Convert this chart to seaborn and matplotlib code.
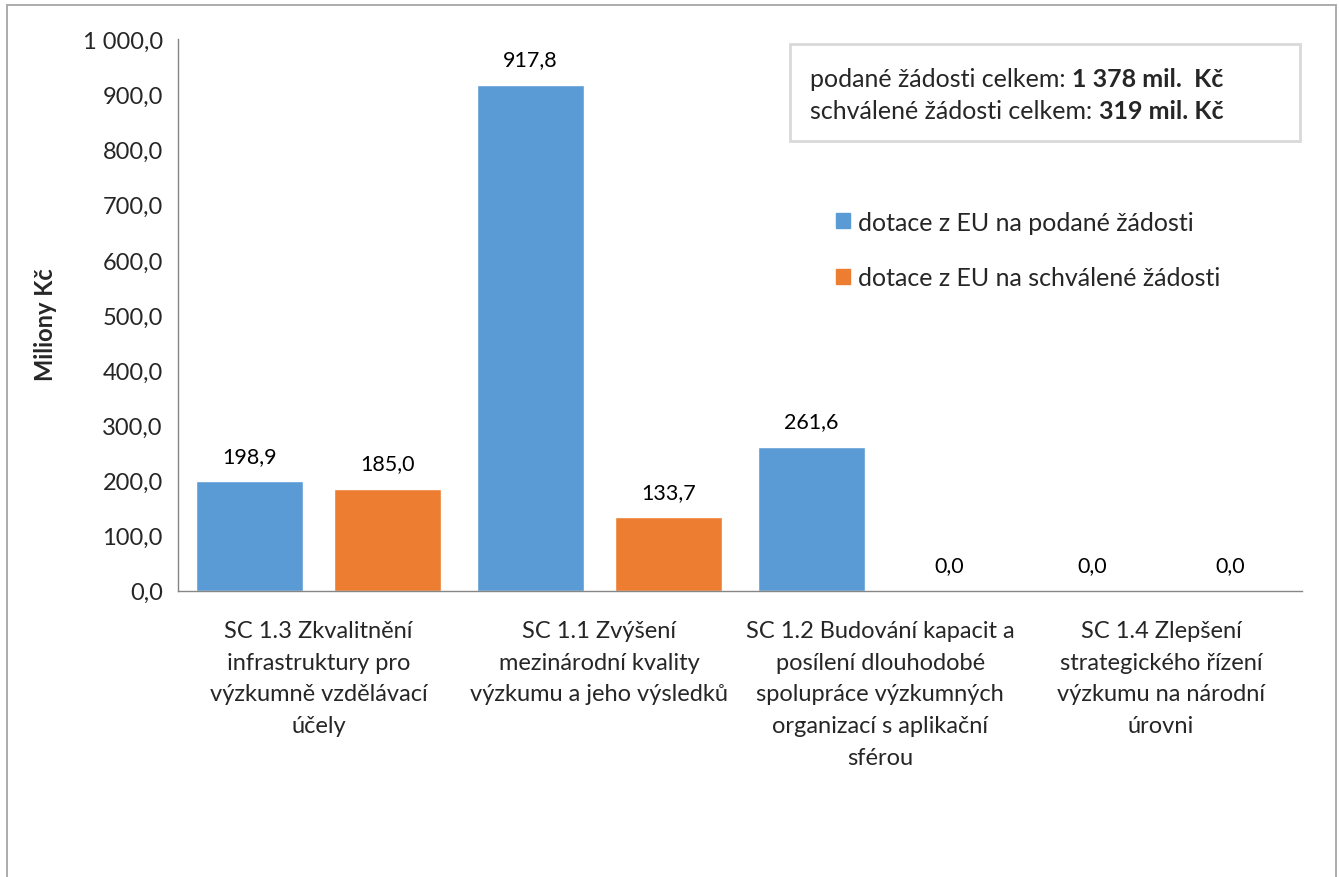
import matplotlib
matplotlib.use("Agg")
import matplotlib.pyplot as plt
import matplotlib.patches as mpatches
from matplotlib.ticker import FixedLocator, FuncFormatter
import pandas as pd
import seaborn as sns

# --- data ---
categories = [
    "SC 1.3 Zkvalitnění\ninfrastruktury pro\nvýzkumně vzdělávací\núčely",
    "SC 1.1 Zvýšení\nmezinárodní kvality\nvýzkumu a jeho výsledků",
    "SC 1.2 Budování kapacit a\nposílení dlouhodobé\nspolupráce výzkumných\norganizací s aplikační\nsférou",
    "SC 1.4 Zlepšení\nstrategického řízení\nvýzkumu na národní\núrovni",
]
podane = [198.9, 917.8, 261.6, 0.0]
schvalene = [185.0, 133.7, 0.0, 0.0]
series_names = ["dotace z EU na podané žádosti", "dotace z EU na schválené žádosti"]
colors = ["#5B9BD5", "#ED7D31"]
y_ticks = list(range(0, 1001, 100))
summary_lines = [
    ("podané žádosti celkem: ", "1 378 mil.  Kč"),
    ("schválené žádosti celkem: ", "319 mil. Kč"),
]


def cz_num(v, pos=None):
    """Czech number format: space as thousands separator, comma decimal."""
    return f"{v:,.1f}".replace(",", " ").replace(".", ",")


df = pd.DataFrame({
    "kategorie": categories * 2,
    "hodnota": podane + schvalene,
    "serie": [series_names[0]] * 4 + [series_names[1]] * 4,
})

sns.set_style("white")
plt.rcParams["font.family"] = ["Lato", "DejaVu Sans"]

FS = 17

fig = plt.figure(figsize=(13.39, 8.78), dpi=100)
ax = fig.add_axes([0.133, 0.326, 0.839, 0.628])

sns.barplot(data=df, x="kategorie", y="hodnota", hue="serie", palette=colors,
            width=0.98, gap=0.22, saturation=1, ax=ax)

for cont in ax.containers:
    ax.bar_label(cont, labels=[cz_num(b.get_height()) for b in cont], padding=11,
                 fontsize=15.5, color="#000000")

ax.set_ylim(0, 1000)
ax.set_xlim(-0.5, 3.5)
ax.set_yticks(y_ticks)
ax.yaxis.set_major_formatter(FuncFormatter(cz_num))
ax.tick_params(axis="y", length=6, width=1, color="#868686", labelsize=FS, pad=5)
ax.tick_params(axis="x", which="major", length=0, labelsize=FS, pad=21)
# category separators as minor ticks on the boundaries
ax.xaxis.set_minor_locator(FixedLocator([-0.5, 0.5, 1.5, 2.5, 3.5]))
ax.tick_params(axis="x", which="minor", length=7, width=1, color="#868686")
ax.set_xlabel("")
ax.set_ylabel("Miliony Kč", fontsize=FS, fontweight="bold")
ax.yaxis.set_label_coords(-0.108, 0.484)

for side in ["top", "right"]:
    ax.spines[side].set_visible(False)
for side in ["left", "bottom"]:
    ax.spines[side].set_color("#868686")
    ax.spines[side].set_linewidth(1)

for lbl in ax.get_xticklabels():
    lbl.set_linespacing(1.63)

# legend without frame, mid-right
handles = [mpatches.Patch(color=c, label=n) for c, n in zip(colors, series_names)]
ax.legend(handles=handles, loc="center left", bbox_to_anchor=(0.586, 0.618),
          frameon=False, fontsize=18, handlelength=0.55, handleheight=0.55,
          handletextpad=0.3, labelspacing=1.3, borderpad=0, borderaxespad=0)

# summary box top-right: regular text followed by bold part
fig.patches.append(mpatches.Rectangle((0.590, 0.838), 0.381, 0.111, transform=fig.transFigure,
                                      fill=False, edgecolor="#D9D9D9", linewidth=2))
for (plain, bold), ypos in zip(summary_lines, [0.910, 0.873]):
    t = fig.text(0.605, ypos, plain, fontsize=18, va="center", ha="left")
    ax.annotate(bold, xy=(1, 0.5), xycoords=t, va="center", ha="left",
                fontsize=18, fontweight="bold", annotation_clip=False)

# outer chart border (bottom edge runs off the image)
fig.patches.append(mpatches.Rectangle((0.0056, -0.02), 0.9922, 1.0137, transform=fig.transFigure,
                                      fill=False, edgecolor="#A6A6A6", linewidth=1.3))

fig.savefig("out.png", dpi=100)
